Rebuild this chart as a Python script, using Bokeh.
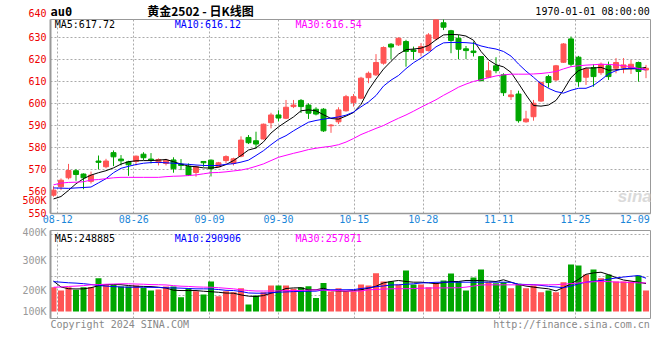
from bokeh.plotting import figure
from bokeh.models import Range1d, FixedTicker, Label, ColumnDataSource
from bokeh.layouts import column
from bokeh.embed import file_html
from bokeh.resources import INLINE
from bokeh.core.properties import value

# ---------------- data ----------------
title_code = "au0"
title_name = "黄金2502 - 日K线图"
stamp_text = "1970-01-01 08:00:00"
copyright_text = "Copyright 2024 SINA.COM"
url_text = "http://finance.sina.com.cn"

date_labels = ["08-12", "08-26", "09-09", "09-30", "10-15", "10-28", "11-11", "11-25", "12-09"]
date_label_pos = [0.57, 10.7, 20.8, 30.0, 40.1, 49.3, 59.4, 69.6, 77.5]
date_grid_pos = [0.57, 10.7, 20.8, 30.0, 40.1, 49.3, 59.4, 69.6, 79.6]

price_ticks = [550, 560, 570, 580, 590, 600, 610, 620, 630]
price_top_label = "640"

open_ = [558.3, 562.1, 566.2, 569.4, 567.9, 564.6, 573.8, 571.2, 577.6, 574.7,
         573.4, 573.6, 576.9, 574.7, 573.1, 572.7, 574.3, 572.4, 571.4, 568.6,
         573.6, 574.2, 571.2, 574.0, 572.8, 576.0, 584.5, 583.0, 583.8, 591.2,
         594.7, 593.2, 598.5, 601.3, 599.2, 597.3, 597.3, 589.8, 591.6, 596.6,
         600.3, 602.3, 611.6, 612.9, 618.2, 626.8, 626.5, 628.0, 624.2, 623.0,
         623.9, 629.3, 636.5, 632.9, 629.5, 624.7, 623.7, 621.2, 611.8, 617.0,
         612.9, 603.0, 604.2, 591.6, 593.9, 601.0, 612.1, 610.6, 618.6, 629.2,
         620.9, 611.8, 616.2, 613.9, 617.0, 615.9, 616.2, 615.9, 618.5, 615.1]
high = [562.4, 565.9, 572.5, 570.2, 568.2, 569.0, 576.3, 574.8, 578.6, 576.5,
        573.9, 576.3, 577.8, 577.4, 575.0, 574.8, 575.5, 574.7, 572.7, 571.7,
        573.8, 574.5, 573.4, 576.4, 575.3, 585.0, 585.6, 587.1, 590.8, 595.7,
        596.8, 601.5, 601.5, 601.9, 600.0, 598.2, 597.8, 590.6, 598.2, 603.8,
        604.2, 612.0, 614.4, 622.3, 625.8, 627.3, 629.9, 628.8, 625.7, 627.3,
        631.8, 641.0, 638.5, 633.3, 631.0, 626.0, 628.0, 621.4, 618.9, 620.9,
        613.6, 606.0, 605.7, 596.6, 601.5, 609.8, 612.9, 617.4, 627.3, 630.3,
        621.5, 616.2, 617.7, 618.5, 618.9, 620.5, 620.5, 619.7, 618.9, 617.4]
low = [557.6, 560.6, 565.5, 564.8, 561.0, 563.6, 570.0, 570.5, 571.5, 571.8,
       567.1, 571.8, 574.2, 572.7, 571.8, 571.8, 568.5, 569.7, 567.1, 566.7,
       571.2, 566.8, 571.0, 572.7, 571.8, 575.5, 581.5, 579.5, 583.6, 588.6,
       591.8, 592.8, 597.8, 595.6, 592.9, 594.5, 587.0, 586.6, 590.6, 596.2,
       598.5, 601.8, 609.1, 612.4, 617.5, 620.0, 626.0, 616.6, 619.7, 621.2,
       623.5, 628.5, 633.2, 622.7, 620.0, 620.0, 621.2, 609.9, 611.4, 613.6,
       603.3, 601.5, 591.2, 591.2, 592.1, 600.6, 607.1, 610.0, 618.3, 616.6,
       607.5, 608.3, 607.5, 612.9, 610.6, 613.6, 613.6, 613.3, 609.8, 611.4]
close = [560.6, 565.1, 569.5, 567.7, 566.2, 567.4, 573.2, 573.8, 575.7, 573.9,
         572.1, 576.0, 575.3, 574.2, 574.5, 574.2, 570.3, 571.8, 567.4, 571.2,
         573.0, 570.3, 573.0, 575.8, 574.8, 583.3, 582.1, 581.5, 590.5, 594.7,
         593.3, 598.2, 599.2, 598.5, 595.5, 595.1, 587.5, 590.1, 597.0, 603.0,
         603.0, 611.4, 613.6, 618.5, 625.3, 625.5, 629.5, 623.5, 623.5, 625.7,
         631.0, 639.5, 634.5, 628.5, 624.5, 623.9, 623.0, 610.3, 614.7, 614.8,
         604.8, 603.8, 592.1, 592.9, 600.0, 609.4, 609.4, 617.0, 626.9, 617.7,
         609.8, 615.6, 612.1, 617.7, 612.1, 618.5, 617.4, 617.7, 614.4, 615.9]

ma5 = [556.6, 557.7, 560.5, 563.5, 565.8, 567.4, 568.5, 569.4, 570.7, 572.4,
       573.5, 573.9, 574.0, 574.0, 574.2, 574.5, 573.5, 572.4, 571.5, 571.2,
       570.7, 570.6, 571.0, 572.2, 574.0, 576.3, 578.8, 579.7, 582.5, 586.5,
       589.3, 591.6, 593.8, 596.6, 597.0, 596.6, 594.8, 593.1, 592.8, 594.2,
       595.8, 599.5, 606.0, 611.0, 615.5, 619.0, 622.3, 624.3, 624.6, 625.0,
       626.2, 628.8, 631.0, 631.2, 631.1, 630.5, 628.6, 623.5, 619.7, 617.5,
       616.5, 614.0, 609.0, 603.8, 599.0, 598.7, 599.2, 601.3, 606.0, 611.6,
       614.8, 616.0, 616.0, 616.3, 615.0, 615.2, 615.5, 615.6, 615.7, 616.3]
ma10 = [561.6, 561.5, 561.4, 561.6, 561.8, 562.0, 563.9, 565.8, 568.5, 570.5,
        571.4, 572.2, 572.8, 573.1, 573.2, 573.0, 572.8, 572.5, 572.3, 572.0,
        571.8, 571.7, 571.8, 572.3, 572.6, 573.3, 574.2, 576.3, 578.5, 581.2,
        583.7, 585.3, 587.5, 589.5, 591.4, 592.2, 592.8, 593.3, 593.8, 594.6,
        596.0, 598.4, 600.6, 603.5, 607.8, 610.5, 612.6, 615.7, 618.4, 620.5,
        622.8, 625.6, 627.4, 627.6, 627.6, 627.5, 627.2, 626.0, 625.2, 624.6,
        623.5, 621.4, 617.8, 614.6, 611.8, 608.8, 606.8, 605.3, 604.6, 605.9,
        606.8, 606.8, 608.1, 610.6, 613.3, 614.8, 615.7, 615.9, 615.6, 615.2]
ma30 = [563.0, 563.8, 564.1, 564.2, 564.4, 565.2, 565.4, 565.8, 566.2, 566.4,
        566.4, 566.4, 566.4, 566.4, 566.4, 566.7, 566.9, 567.0, 567.2, 567.5,
        568.0, 568.5, 568.6, 568.9, 569.3, 569.7, 570.4, 571.4, 572.5, 574.0,
        575.5, 576.4, 577.3, 578.1, 579.0, 579.6, 580.1, 580.5, 581.2, 582.4,
        584.0, 585.8, 587.2, 588.6, 589.9, 591.6, 593.2, 594.7, 596.4, 598.2,
        599.9, 601.6, 603.6, 605.4, 607.3, 608.7, 609.9, 610.7, 611.6, 612.4,
        612.9, 613.2, 613.2, 613.2, 613.3, 613.5, 613.9, 614.4, 615.6, 616.6,
        617.0, 617.3, 617.5, 617.7, 617.6, 617.4, 617.1, 616.5, 615.8, 615.3]

volume = [212000, 183000, 212000, 190000, 212000, 212000, 291000, 233000, 233000, 219000,
          219000, 227000, 207000, 183000, 192000, 219000, 219000, 125000, 204000, 177000,
          148000, 262000, 134000, 177000, 169000, 204000, 61000, 140000, 169000, 227000,
          227000, 227000, 198000, 212000, 221000, 117000, 250000, 175000, 204000, 177000,
          177000, 236000, 227000, 335000, 262000, 262000, 236000, 358000, 236000, 236000,
          212000, 250000, 271000, 331000, 262000, 183000, 297000, 366000, 256000, 247000,
          256000, 204000, 242000, 204000, 227000, 169000, 183000, 169000, 256000, 410000,
          401000, 323000, 366000, 291000, 323000, 262000, 262000, 262000, 314000, 183000]
vol_ma5 = [266000, 214000, 199000, 197000, 198000, 208000, 225000, 235000, 236000, 234000,
           227000, 221000, 219000, 218000, 212000, 205000, 186000, 183000, 183000, 183000,
           177000, 173000, 168000, 161000, 160000, 145000, 134000, 131000, 139000, 160000,
           175000, 201000, 206000, 207000, 189000, 190000, 203000, 182000, 180000, 177000,
           183000, 190000, 204000, 221000, 250000, 262000, 271000, 262000, 256000, 256000,
           250000, 243000, 253000, 262000, 262000, 271000, 271000, 271000, 266000, 262000,
           277000, 256000, 236000, 222000, 213000, 205000, 198000, 180000, 210000, 242000,
           280000, 325000, 337000, 343000, 322000, 296000, 275000, 266000, 256000, 244000]
vol_ma10 = [261000, 256000, 251000, 248000, 243000, 236000, 227000, 222000, 218000, 214000,
            212000, 212000, 212000, 211000, 210000, 207000, 206000, 204000, 201000, 198000,
            198000, 197000, 192000, 185000, 183000, 175000, 162000, 160000, 160000, 164000,
            169000, 171000, 174000, 176000, 177000, 178000, 189000, 190000, 190000, 190000,
            191000, 201000, 207000, 217000, 223000, 232000, 233000, 238000, 242000, 249000,
            252000, 255000, 256000, 256000, 256000, 256000, 256000, 256000, 256000, 256000,
            256000, 255000, 238000, 236000, 235000, 228000, 220000, 214000, 208000, 222000,
            242000, 256000, 264000, 271000, 282000, 293000, 301000, 308000, 314000, 291000]
vol_ma30 = [212000, 214000, 219000, 222000, 226000, 233000, 235000, 238000, 240000, 242000,
            242000, 240000, 238000, 235000, 234000, 232000, 226000, 221000, 219000, 215000,
            213000, 212000, 208000, 203000, 198000, 190000, 183000, 179000, 179000, 179000,
            180000, 183000, 183000, 184000, 186000, 189000, 187000, 183000, 182000, 179000,
            178000, 179000, 190000, 192000, 196000, 198000, 199000, 199000, 200000, 204000,
            205000, 206000, 206000, 207000, 207000, 213000, 222000, 232000, 233000, 233000,
            233000, 233000, 233000, 233000, 233000, 233000, 233000, 234000, 239000, 243000,
            249000, 256000, 260000, 262000, 261000, 257000, 256000, 253000, 250000, 250000]

price_ma_text = ["MA5:617.72", "MA10:616.12", "MA30:616.54"]
vol_ma_text = ["MA5:248885", "MA10:290906", "MA30:257871"]
vol_tick_text = ["100K", "200K", "300K", "400K", "500K"]
vol_tick_pos = [4400, 180800, 449800, 707400]

# ---------------- styling ----------------
UP = "#FF5555"
DOWN = "#00A600"
MA_COLORS = ["#000000", "#0000FF", "#FF00FF"]
MONO = "DejaVu Sans Mono"
GRID = "#AAAAAA"
FRAME = "#999999"
PRICE_RED = "#EE0000"
VOL_GRAY = "#999999"
BL, BR = 50, 10          # left / right borders shared by all stacked figures
PX_PER_PRICE = 194 / 88  # price frame: 194 px for 550..638

n = len(close)
xs = list(range(n))
colors = [UP if c >= o else DOWN for o, c in zip(open_, close)]
src = ColumnDataSource(dict(
    x=xs, low=low, high=high,
    top=[max(o, c) for o, c in zip(open_, close)],
    bot=[min(o, c) for o, c in zip(open_, close)],
    color=colors, vol=volume,
))

xr = Range1d(-0.4, 79.6)


def style_axis(ax, color):
    ax.major_tick_line_color = None
    ax.minor_tick_line_color = None
    ax.major_tick_out = 0
    ax.major_tick_in = 0
    ax.major_label_text_font = MONO
    ax.major_label_text_font_size = "10px"
    ax.major_label_text_color = color


def style(fig):
    fig.outline_line_color = FRAME
    fig.outline_line_width = 1
    fig.background_fill_color = "white"
    fig.border_fill_color = "white"
    fig.xgrid.ticker = FixedTicker(ticks=date_grid_pos)
    for g in (fig.xgrid, fig.ygrid):
        g.grid_line_color = GRID
        g.grid_line_dash = "2 2"
        g.grid_line_width = 1
    for ax in (fig.xaxis, fig.yaxis):
        style_axis(ax, "black")
        ax.axis_line_color = FRAME
    fig.yaxis.axis_line_width = 2
    fig.yaxis.major_label_standoff = 4


def inner_label(fig, x, y, text, color="black", align="left", size="10px", font=MONO, fstyle="normal"):
    fig.add_layout(Label(x=x, y=y, text=text, text_color=color, text_align=align,
                         text_baseline="middle", text_font=font, text_font_size=size,
                         text_font_style=fstyle))


def strip(height, y_range, tick=None, tick_text=None, tick_color=None):
    s = figure(frame_width=600, frame_height=height, x_range=xr, y_range=y_range,
               output_backend="svg", toolbar_location=None,
               min_border_left=BL, min_border_right=BR, min_border_top=0, min_border_bottom=0)
    s.background_fill_color = "white"
    s.border_fill_color = "white"
    s.outline_line_color = None
    s.xaxis.visible = False
    s.xgrid.visible = False
    s.ygrid.visible = False
    if tick is None:
        s.yaxis.visible = False
    else:
        style_axis(s.yaxis, tick_color)
        s.yaxis.axis_line_color = None
        s.yaxis.major_label_standoff = 4
        s.yaxis.ticker = FixedTicker(ticks=[tick])
        s.yaxis.major_label_overrides = {tick: tick_text}
    return s


def strip_text(s, x, y, text, color="black", align="left", size="10px", font=MONO, fstyle="normal"):
    s.text(x=[x], y=[y], text=[text], text_color=color, text_align=align, text_baseline="middle",
           text_font=value(font), text_font_size=value(size), text_font_style=fstyle)


# ---------------- header strip (price units, above the price frame) ----------------
HEAD_H = 18
head_lo = 638 + 1 / PX_PER_PRICE
head = strip(HEAD_H, Range1d(head_lo, head_lo + HEAD_H / PX_PER_PRICE),
             tick=641.0, tick_text=price_top_label, tick_color=PRICE_RED)
strip_text(head, -0.4, 641.6, title_code, size="12px", fstyle="bold")
strip_text(head, 19.6, 642.3, title_name, align="center", size="12px", font="Noto Sans CJK SC",
           fstyle="bold")
strip_text(head, 79.5, 641.6, stamp_text, align="right")

# ---------------- price panel ----------------
p = figure(frame_width=600, frame_height=194, x_range=xr, y_range=Range1d(550, 638),
           output_backend="svg", toolbar_location=None,
           min_border_left=BL, min_border_right=BR, min_border_top=1, min_border_bottom=13)
style(p)
p.ygrid.ticker = FixedTicker(ticks=price_ticks[1:])
p.yaxis.ticker = FixedTicker(ticks=price_ticks + [556])
p.yaxis.major_label_overrides = {556: vol_tick_text[4]}
p.yaxis.major_label_text_color = PRICE_RED
p.xaxis.ticker = FixedTicker(ticks=date_label_pos)
p.xaxis.major_label_overrides = {pos: t for pos, t in zip(date_label_pos, date_labels)}
p.xaxis.major_label_text_color = "#1A86D8"
p.xaxis.major_label_standoff = 1
p.xaxis.axis_line_width = 1.5

p.segment(x0="x", y0="low", x1="x", y1="high", line_color="color", line_width=1, source=src)
p.vbar(x="x", width=0.66, top="top", bottom="bot", fill_color="color", line_color="color",
       line_width=1, source=src)
for series, col in zip((ma5, ma10, ma30), MA_COLORS):
    p.line(xs, series, line_color=col, line_width=1)

for t, xx, col in zip(price_ma_text, (0.17, 16.17, 32.27), MA_COLORS):
    inner_label(p, xx, 635.7, t, color=col)
inner_label(p, 77.5, 557.7, "sina", color="#DADADA", align="center", size="17px",
            font="Liberation Sans", fstyle="bold italic")

# ---------------- volume panel ----------------
v = figure(frame_width=600, frame_height=88, x_range=xr, y_range=Range1d(-61000, 707400),
           output_backend="svg", toolbar_location=None,
           min_border_left=BL, min_border_right=BR, min_border_top=4, min_border_bottom=1)
style(v)
v.xaxis.visible = False
v.ygrid.ticker = FixedTicker(ticks=[137000, 308000, 483000, 672500])
v.yaxis.ticker = FixedTicker(ticks=vol_tick_pos)
v.yaxis.major_label_overrides = {pos: t for pos, t in zip(vol_tick_pos, vol_tick_text[:4])}
v.yaxis.major_label_text_color = VOL_GRAY

v.vbar(x="x", width=0.8, top="vol", bottom=0, fill_color="color", line_color=None, source=src)
for series, col in zip((vol_ma5, vol_ma10, vol_ma30), MA_COLORS):
    v.line(xs, series, line_color=col, line_width=1)

for t, xx, col in zip(vol_ma_text, (0.17, 16.17, 32.27), MA_COLORS):
    inner_label(v, xx, 633600, t, color=col)

# ---------------- footer strip ----------------
FOOT_H = 30
foot = strip(FOOT_H, Range1d(FOOT_H, 0))
strip_text(foot, -0.4, 5, copyright_text, color="#888888")
strip_text(foot, 79.5, 5, url_text, color="#888888", align="right")

layout = column(head, p, v, foot)
open("out.html", "w").write(file_html(layout, INLINE))
